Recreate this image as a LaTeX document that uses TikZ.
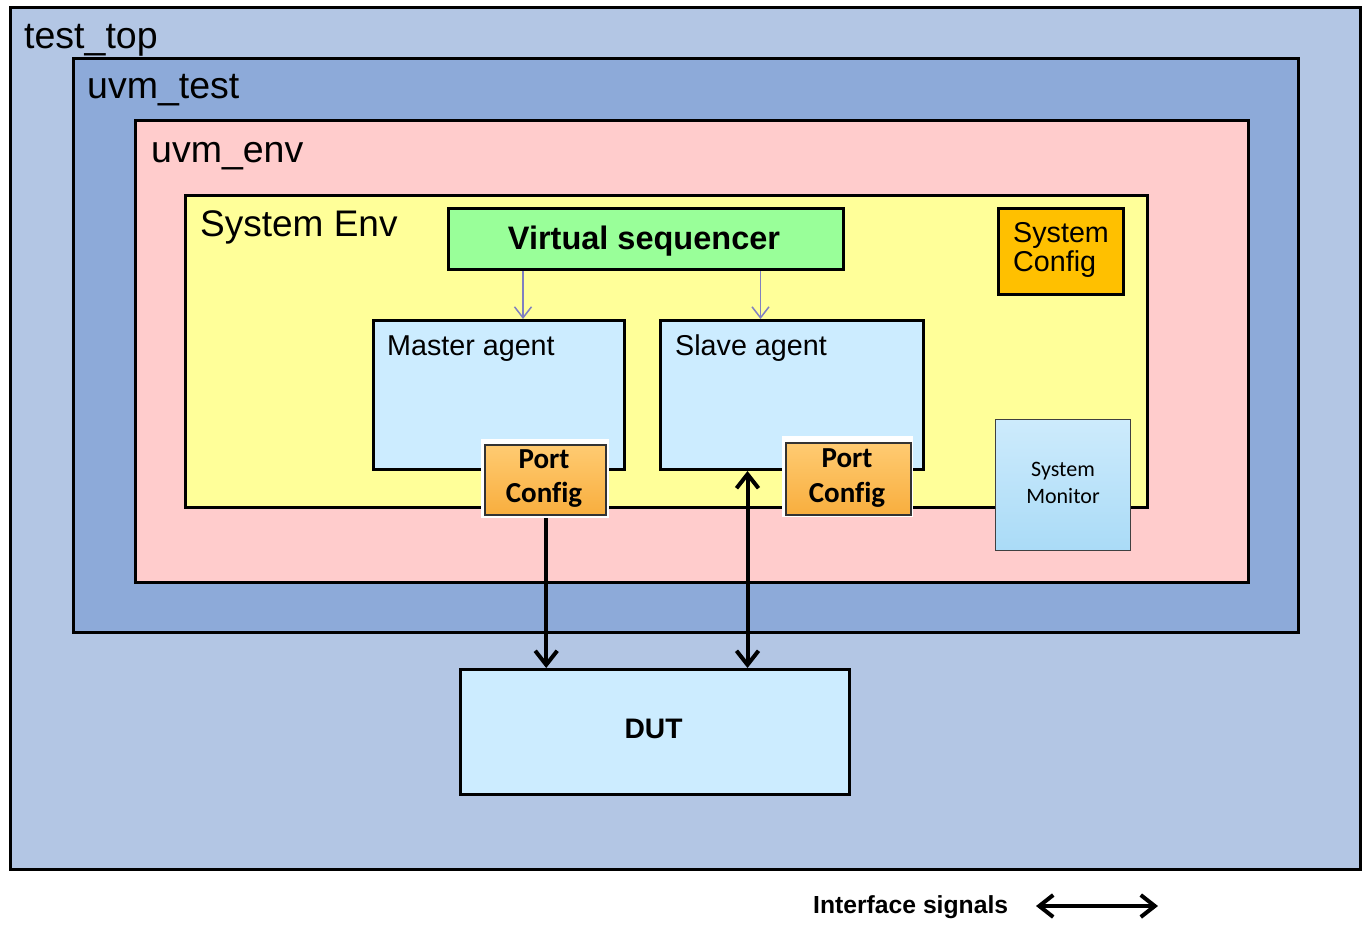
\documentclass[tikz,border=0pt]{standalone}
\usepackage{fontspec}
\setmainfont{Liberation Sans}
\newfontfamily\calibri[Ligatures=NoCommon]{Carlito}
\usetikzlibrary{arrows.meta}
\definecolor{topc}{HTML}{B3C6E4}
\definecolor{testc}{HTML}{8DAAD9}
\definecolor{envc}{HTML}{FFCCCC}
\definecolor{sysc}{HTML}{FFFF99}
\definecolor{vseqc}{HTML}{99FF99}
\definecolor{confc}{HTML}{FFC000}
\definecolor{agc}{HTML}{CCECFF}
\definecolor{portt}{HTML}{FFCB72}
\definecolor{portb}{HTML}{F8AE3E}
\definecolor{mont}{HTML}{CDEBFC}
\definecolor{monb}{HTML}{AADBF7}
\definecolor{ctrlc}{HTML}{8080C0}
\begin{document}
\begin{tikzpicture}[x=1pt,y=-1pt,
  box/.style={draw=black, line width=3pt, inner sep=0pt, anchor=north west},
  halo/.style={fill=white, inner sep=0pt, anchor=north west},
  portbox/.style={draw=black!80, line width=1.5pt, inner sep=0pt, anchor=north west, top color=portt, bottom color=portb},
  monbox/.style={draw=black!75, line width=1pt, inner sep=0pt, anchor=north west, top color=mont, bottom color=monb},
  lbl/.style={inner sep=0pt, anchor=base west},
  clbl/.style={inner sep=0pt, anchor=base},
  big/.style={font=\fontsize{37.5}{40}\selectfont},
  mid/.style={font=\fontsize{28.7}{30}\selectfont},
  portf/.style={font=\calibri\bfseries\fontsize{29}{30}\selectfont},
  ctrl/.style={draw=ctrlc, line width=1.5pt, -{Straight Barb[length=11pt,width=17pt]}},
  sig/.style={line width=4pt, -{Straight Barb[length=14pt,width=22pt]}},
  sigb/.style={line width=4pt, {Straight Barb[length=14pt,width=22pt]}-{Straight Barb[length=14pt,width=22pt]}}
]
\useasboundingbox (0,0) rectangle (1362,930);
\fill[white] (0,0) rectangle (1362,930);

% nested containers
\node[box, fill=topc, minimum width=1350pt, minimum height=862pt] (top) at (9,6) {};
\node[lbl, big] (toplbl) at (24,48) {test\_top};
\node[box, fill=testc, minimum width=1225pt, minimum height=574pt] (test) at (72,57) {};
\node[lbl, big] (testlbl) at (87,98) {uvm\_test};
\node[box, fill=envc, minimum width=1113pt, minimum height=462pt] (env) at (134,119) {};
\node[lbl, big] (envlbl) at (151,162) {uvm\_env};
\node[box, fill=sysc, minimum width=962pt, minimum height=312pt] (sys) at (184,194) {};
\node[lbl, font=\fontsize{37}{40}\selectfont] (syslbl) at (200,236) {System Env};

% virtual sequencer
\node[box, fill=vseqc, minimum width=395pt, minimum height=61pt] (vseq) at (447,207) {};
\node[clbl, font=\bfseries\fontsize{32.5}{34}\selectfont] (vseqlbl) at (644,249) {Virtual sequencer};

% system config
\node[box, fill=confc, minimum width=125pt, minimum height=86pt] (conf) at (997,207) {};
\node[lbl, mid] (confa) at (1013,242) {System};
\node[lbl, mid] (confb) at (1013,271) {Config};

% agents
\node[box, fill=agc, minimum width=251pt, minimum height=149pt] (master) at (372,319) {};
\node[lbl, mid] (masterlbl) at (387,355) {Master agent};
\node[box, fill=agc, minimum width=263pt, minimum height=149pt] (slave) at (659,319) {};
\node[lbl, mid] (slavelbl) at (675,355) {Slave agent};

% port configs
\node[halo, minimum width=128pt, minimum height=79pt] (p1h) at (481,439) {};
\node[portbox, minimum width=121pt, minimum height=70pt] (p1) at (484,444) {};
\node[clbl, portf] (p1a) at (544,468) {Port};
\node[clbl, portf] (p1b) at (544,502) {Config};
\node[halo, minimum width=131pt, minimum height=81pt] (p2h) at (782,436) {};
\node[portbox, minimum width=125pt, minimum height=72pt] (p2) at (785,442) {};
\node[clbl, portf] (p2a) at (847,467) {Port};
\node[clbl, portf] (p2b) at (847,502) {Config};

% system monitor
\node[monbox, minimum width=135pt, minimum height=131pt] (mon) at (995,419) {};
\node[clbl, font=\calibri\fontsize{22}{24}\selectfont] (mona) at (1063,476) {System};
\node[clbl, font=\calibri\fontsize{22}{24}\selectfont] (monb) at (1063,503) {Monitor};

% DUT
\node[box, fill=agc, minimum width=389pt, minimum height=125pt] (dut) at (459,668) {};
\node[clbl, font=\bfseries\fontsize{28.2}{30}\selectfont] (dutlbl) at (653.5,738) {DUT};

% control arrows
\draw[ctrl] ([xshift=-123pt]vseq.south) -- ([xshift=-123pt]vseq.south |- master.north);
\draw[ctrl] ([xshift=114.5pt]vseq.south) -- ([xshift=114.5pt]vseq.south |- slave.north);

% interface signals
\draw[sig] ([xshift=1pt]p1h.south) -- ([xshift=1pt]p1h.south |- dut.north);
\draw[sigb] ([xshift=-44.5pt]slave.south) -- ([xshift=-44.5pt]slave.south |- dut.north);

% legend
\node[lbl, font=\bfseries\fontsize{24.7}{26}\selectfont] (leg) at (813,913) {Interface signals};
\coordinate (la) at (1036,906);
\coordinate (lb) at (1158,906);
\draw[sigb] (la) -- (lb);
\end{tikzpicture}
\end{document}
